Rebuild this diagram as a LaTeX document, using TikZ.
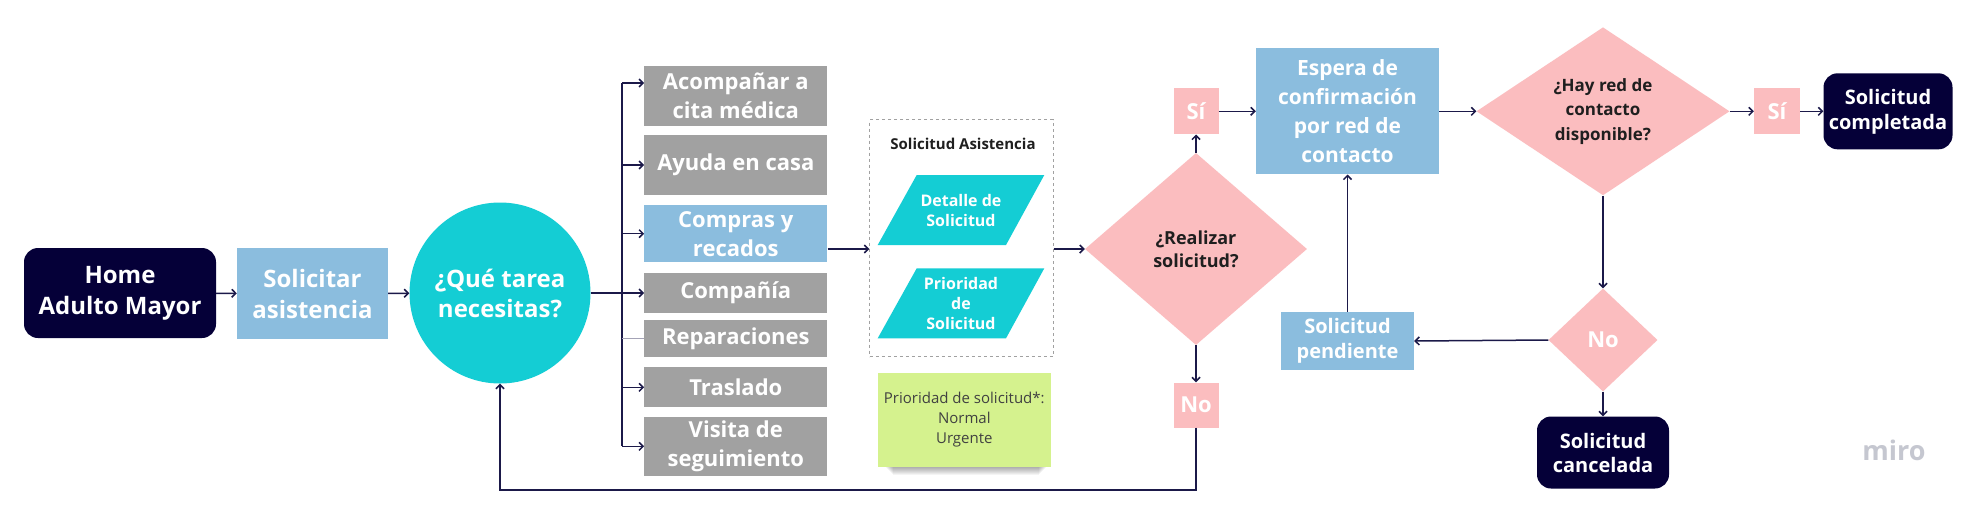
\documentclass[tikz,border=0pt]{standalone}
\usepackage{fontspec}
\setmainfont{Open Sans}
\usetikzlibrary{arrows.meta,shapes.geometric}

\definecolor{navy}{HTML}{050038}
\definecolor{azulc}{HTML}{8BBDDE}
\definecolor{turquesa}{HTML}{14CDD4}
\definecolor{grisc}{HTML}{A1A1A1}
\definecolor{rosac}{HTML}{FBBDBF}
\definecolor{verdec}{HTML}{D5F28E}
\definecolor{lineac}{HTML}{1B1949}
\definecolor{textoc}{HTML}{1F1F1F}
\definecolor{mirogris}{HTML}{C5C7D0}

\tikzset{
  flecha/.style={draw=lineac, line width=1.5pt, -{Straight Barb[length=4pt,width=8pt]}},
  caja/.style={rectangle, inner sep=0pt, align=center, text=white, font=\bfseries\fontsize{22}{29}\selectfont},
  gris/.style={caja, fill=grisc, minimum width=183},
  azul/.style={caja, fill=azulc},
  final/.style={caja, fill=navy, rounded corners=14pt},
  rosa/.style={caja, fill=rosac, minimum width=45, minimum height=46},
  decision/.style={diamond, fill=rosac, inner sep=0pt, align=center, text=textoc, font=\bfseries\fontsize{18}{23}\selectfont},
}

\begin{document}
\begin{tikzpicture}[x=1pt,y=1pt,yscale=-1,xscale=1]
        \useasboundingbox[fill=white] (0,0) rectangle (1971,507);

        % inicio
        \node[final, font=\bfseries\fontsize{24}{31}\selectfont, minimum width=192, minimum height=90] (home) at (120,293) {Home\\Adulto Mayor};
        \node[azul, font=\bfseries\fontsize{24}{31}\selectfont, minimum width=151, minimum height=91] (solic) at (312.5,293.5) {Solicitar\\asistencia};
        \node[circle, fill=turquesa, inner sep=0pt, minimum size=181, align=center, text=white, font=\bfseries\fontsize{24}{30}\selectfont] (tarea) at (500,293) {¿Qué tarea\\necesitas?};

        % tareas
        \node[gris, minimum height=60.3] (acomp) at (735.8,95.8) {Acompañar a\\cita médica};
        \node[gris, minimum height=60] (ayuda) at (735.8,165) {Ayuda en casa};
        \node[azul, minimum width=183, minimum height=57.3] (compras) at (735.8,233.7) {Compras y\\recados};
        \node[gris, minimum height=40] (compania) at (735.8,293) {Compañía};
        \node[gris, minimum height=36.7] (repar) at (735.8,338.3) {Reparaciones};
        \node[gris, minimum height=40] (traslado) at (735.8,387.3) {Traslado};
        \node[gris, minimum height=59.3] (visita) at (735.8,446.3) {Visita de\\seguimiento};

        % solicitud
        \node[draw=grisc, line width=1pt, dash pattern=on 3pt off 3pt, minimum width=183.3, minimum height=236.7] (grupo) at (961.5,238.3) {};
        \node[text=textoc, font=\bfseries\fontsize{15}{18}\selectfont] (titulo) at (963,144.3) {Solicitud Asistencia};
        \fill[turquesa] (877.7,245) -- (1006,245) -- (1044.3,175) -- (916.7,175) -- cycle;
        \fill[turquesa] (877.7,338.3) -- (1006,338.3) -- (1044.3,268.3) -- (916.7,268.3) -- cycle;
        \node[align=center, text=white, font=\bfseries\fontsize{16}{20}\selectfont] (detalle) at (961,210) {Detalle de\\Solicitud};
        \node[align=center, text=white, font=\bfseries\fontsize{16}{20}\selectfont] (prioridad) at (961,303) {Prioridad\\de\\Solicitud};
        % sombra de la nota
        \foreach \s in {1,...,8}
            \fill[black, opacity=0.045] (885+\s,455) rectangle (1047-\s,466.7+\s);
        \node[fill=verdec, minimum width=173.3, minimum height=93.3, align=center, text=textoc!85, font=\fontsize{15}{20}\selectfont] (nota) at (964.3,420) {Prioridad de solicitud*:\\Normal\\Urgente};

        % decisiones
        \node[decision, minimum width=222, minimum height=192] (realizar) at (1196,249) {¿Realizar\\solicitud?};
        \node[rosa] (si1) at (1196,111.3) {Sí};
        \node[rosa, minimum height=45] (no1) at (1196,405) {No};
        \node[azul, font=\bfseries\fontsize{21}{29}\selectfont, minimum width=183, minimum height=126] (espera) at (1347.5,111.3) {Espera de\\confirmación\\por red de\\contacto};
        \node[azul, font=\bfseries\fontsize{20}{24.5}\selectfont, minimum width=133, minimum height=58] (pend) at (1347.5,341) {Solicitud\\pendiente};
        \node[decision, aspect=1.5, font=\bfseries\fontsize{17}{24.5}\selectfont, minimum width=253, minimum height=168] (hayred) at (1603,111.3) {¿Hay red de\\contacto\\disponible?};
        \node[rosa, minimum width=46] (si2) at (1777,111.3) {Sí};
        \node[final, font=\bfseries\fontsize{20}{25}\selectfont, minimum width=129, minimum height=76] (compl) at (1888,111.3) {Solicitud\\completada};
        \node[decision, text=white, font=\bfseries\fontsize{22}{26}\selectfont, minimum width=109, minimum height=103] (no2) at (1603,340) {No};
        \node[final, font=\bfseries\fontsize{20}{24}\selectfont, minimum width=132, minimum height=72] (cancel) at (1603,452.5) {Solicitud\\cancelada};
        \node[text=mirogris, font=\bfseries\fontsize{27}{30}\selectfont] (marca) at (1894,450) {miro};

        \coordinate (bus) at (622,83);
        \coordinate (fondo) at (500,490);

        % conectores
        \draw[flecha] (home) -- (solic);
        \draw[flecha] (solic) -- (tarea);
        \draw[flecha] (tarea.east) -- (compania.west);
        \draw[draw=lineac, line width=1.5pt] (bus) -- (bus |- visita.west);
        \draw[flecha] (bus) -- (bus -| acomp.west);
        \foreach \t in {ayuda,compras,traslado,visita}
            \draw[flecha] (bus |- \t.west) -- (\t.west);
        \draw[draw=lineac!40, line width=1pt] (bus |- repar.west) -- (repar.west);
        \draw[flecha] (compras.east |- realizar.west) -- (grupo.west |- realizar.west);
        \draw[flecha] (grupo.east |- realizar.west) -- (realizar.west);
        \draw[flecha] (realizar.north) -- (si1.south);
        \draw[flecha] (realizar.south) -- (no1.north);
        \draw[flecha] (no1.south) |- (fondo) -- (tarea.south);
        \draw[flecha] (si1.east) -- (espera.west);
        \draw[flecha] (espera.east) -- (hayred.west);
        \draw[flecha] (hayred.east) -- (si2.west);
        \draw[flecha] (si2.east) -- (compl.west);
        \draw[flecha] (hayred.south) -- (no2.north);
        \draw[flecha] (no2.west) -- (pend.east);
        \draw[flecha] (pend.north) -- (espera.south);
        \draw[flecha] (no2.south) -- (cancel.north);
    \end{tikzpicture}
\end{document}
